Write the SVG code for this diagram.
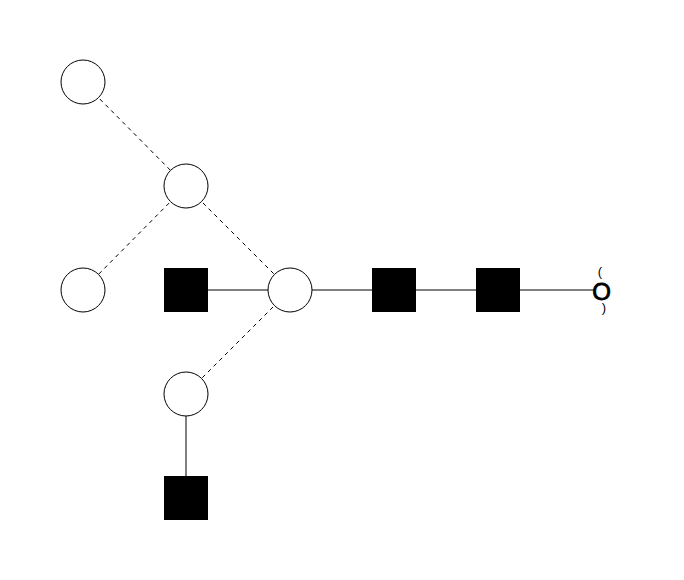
<svg xmlns="http://www.w3.org/2000/svg" width="684" height="580" viewBox="0 0 684 580">
<style>
.c{fill:#fff;stroke:#000;stroke-width:1}
.s{fill:#000;stroke:none}
.e{stroke:#000;stroke-width:1;fill:none}
.d{stroke-dasharray:4,4}
.t{font-family:"Liberation Sans",Arial,sans-serif;fill:#000}
</style>
<rect width="684" height="580" fill="#fff"/>
<g id="connectors">
<line class="e d" x1="83" y1="82" x2="186" y2="186"/>
<line class="e d" x1="186" y1="186" x2="83" y2="290"/>
<line class="e d" x1="186" y1="186" x2="290" y2="290"/>
<line class="e d" x1="290" y1="290" x2="186" y2="394"/>
<line class="e" x1="186" y1="290" x2="290" y2="290"/>
<line class="e" x1="290" y1="290" x2="394" y2="290"/>
<line class="e" x1="394" y1="290" x2="498" y2="290"/>
<line class="e" x1="498" y1="290" x2="594" y2="290"/>
<line class="e" x1="186" y1="394" x2="186" y2="498"/>
</g>
<g id="n1"><circle class="c" cx="83" cy="82" r="22"/></g>
<g id="n2"><circle class="c" cx="186" cy="186" r="22"/></g>
<g id="n3"><circle class="c" cx="83" cy="290" r="22"/></g>
<g id="n4"><rect class="s" x="164" y="268" width="44" height="44"/></g>
<g id="n5"><circle class="c" cx="290" cy="290" r="22"/></g>
<g id="n6"><rect class="s" x="372" y="268" width="44" height="44"/></g>
<g id="n7"><rect class="s" x="476" y="268" width="44" height="44"/></g>
<g id="n8"><circle class="c" cx="186" cy="394" r="22"/></g>
<g id="n9"><rect class="s" x="164" y="476" width="44" height="44"/></g>
<g id="n10">
<text class="t" x="601.5" y="299.5" font-size="24" text-anchor="middle" stroke="#000" stroke-width="0.8">O</text>
<text class="t" x="600" y="276" font-size="13" text-anchor="middle">(</text>
<text class="t" x="604" y="312" font-size="13" text-anchor="middle">)</text>
</g>
</svg>
